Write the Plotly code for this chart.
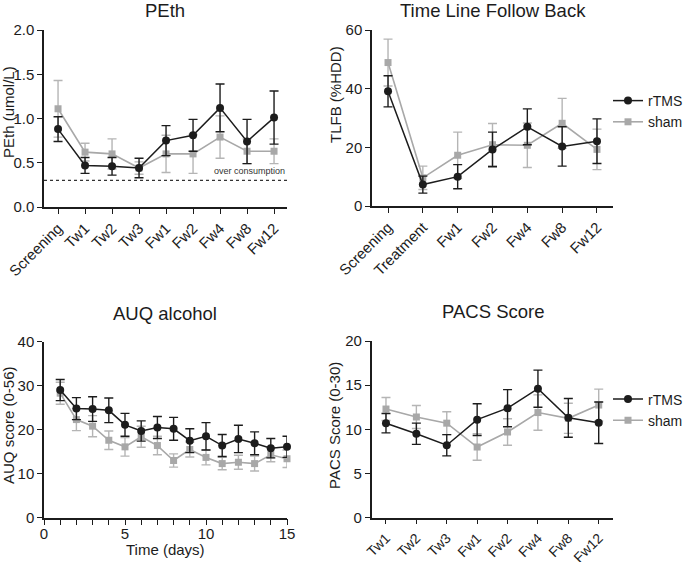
import plotly.graph_objects as go

# ---------------- data ----------------
peth_cats = ["Screening", "Tw1", "Tw2", "Tw3", "Fw1", "Fw2", "Fw4", "Fw8", "Fw12"]
peth_rtms = [0.88, 0.47, 0.46, 0.44, 0.75, 0.81, 1.12, 0.74, 1.01]
peth_rtms_err = [0.14, 0.09, 0.10, 0.11, 0.17, 0.18, 0.27, 0.25, 0.30]
peth_sham = [1.11, 0.62, 0.60, 0.44, 0.60, 0.60, 0.79, 0.63, 0.63]
peth_sham_err = [0.32, 0.10, 0.17, 0.07, 0.21, 0.22, 0.24, 0.14, 0.14]
peth_threshold = 0.3

tlfb_cats = ["Screening", "Treatment", "Fw1", "Fw2", "Fw4", "Fw8", "Fw12"]
tlfb_rtms = [39.1, 7.3, 10.0, 19.3, 27.0, 20.3, 22.1]
tlfb_rtms_err = [5.3, 2.9, 4.1, 5.9, 6.1, 6.7, 7.6]
tlfb_sham = [48.9, 9.6, 17.3, 20.9, 20.7, 28.2, 19.3]
tlfb_sham_err = [8.0, 4.0, 7.9, 7.2, 7.6, 8.5, 6.9]

auq_days = [1, 2, 3, 4, 5, 6, 7, 8, 9, 10, 11, 12, 13, 14, 15]
auq_rtms = [29.0, 24.8, 24.7, 24.4, 21.1, 19.7, 20.5, 20.2, 17.5, 18.5, 16.4, 17.9, 16.9, 15.8, 16.1]
auq_rtms_err = [2.4, 2.5, 2.8, 2.8, 2.6, 2.3, 2.5, 2.6, 2.7, 3.1, 2.5, 3.1, 2.6, 2.2, 2.4]
auq_sham = [28.3, 22.3, 20.8, 17.6, 16.1, 18.4, 16.4, 13.0, 15.5, 13.7, 12.3, 12.6, 12.3, 14.3, 13.4]
auq_sham_err = [2.5, 2.5, 2.4, 2.1, 2.1, 2.4, 2.1, 1.5, 1.7, 1.7, 1.4, 1.6, 1.7, 1.6, 2.0]

pacs_cats = ["Tw1", "Tw2", "Tw3", "Fw1", "Fw2", "Fw4", "Fw8", "Fw12"]
pacs_rtms = [10.7, 9.5, 8.2, 11.1, 12.4, 14.6, 11.3, 10.75]
pacs_rtms_err = [1.1, 1.2, 1.2, 1.8, 2.1, 2.1, 2.2, 2.35]
pacs_sham = [12.3, 11.4, 10.7, 8.0, 9.7, 11.9, 11.25, 12.75]
pacs_sham_err = [1.3, 1.3, 1.3, 1.5, 1.5, 2.0, 1.7, 1.8]

# ---------------- style ----------------
FONT = "Liberation Sans, Arial, Helvetica, sans-serif"
BLACK = "#1c1c1c"
GRAY = "#a8a8a8"
GRAY_ERR = "#b5b5b5"
W, H = 685, 562


def px_x(p):
    return p / W


def px_y(p):
    return 1 - p / H


fig = go.Figure()


def add_pair(x, rt, rt_err, sh, sh_err, xa, ya, legend=None):
    show = legend is not None
    fig.add_trace(go.Scatter(
        x=x, y=sh, name="sham", mode="lines+markers",
        line=dict(color=GRAY, width=1.6),
        marker=dict(symbol="square", size=7, color=GRAY),
        error_y=dict(type="data", array=sh_err, color=GRAY_ERR, thickness=1.4, width=4.5),
        xaxis=xa, yaxis=ya, cliponaxis=False, showlegend=show,
        legend=legend if show else None, legendrank=2,
    ))
    fig.add_trace(go.Scatter(
        x=x, y=rt, name="rTMS", mode="lines+markers",
        line=dict(color=BLACK, width=1.5),
        marker=dict(symbol="circle", size=8, color=BLACK),
        error_y=dict(type="data", array=rt_err, color=BLACK, thickness=1.4, width=4.5),
        xaxis=xa, yaxis=ya, cliponaxis=False, showlegend=show,
        legend=legend if show else None, legendrank=1,
    ))


add_pair(peth_cats, peth_rtms, peth_rtms_err, peth_sham, peth_sham_err, "x", "y")
add_pair(tlfb_cats, tlfb_rtms, tlfb_rtms_err, tlfb_sham, tlfb_sham_err, "x2", "y2", legend="legend")
add_pair(auq_days, auq_rtms, auq_rtms_err, auq_sham, auq_sham_err, "x3", "y3")
add_pair(pacs_cats, pacs_rtms, pacs_rtms_err, pacs_sham, pacs_sham_err, "x4", "y4", legend="legend2")

axis_common = dict(
    showline=True, linecolor=BLACK, linewidth=1.5, mirror=False,
    ticks="outside", ticklen=5, tickwidth=1.4, tickcolor=BLACK,
    showgrid=False, zeroline=False, automargin=False,
    tickfont=dict(family=FONT, size=15, color=BLACK),
)

fig.update_layout(
    width=W, height=H,
    margin=dict(l=0, r=0, t=0, b=0, pad=0, autoexpand=False),
    paper_bgcolor="white", plot_bgcolor="white",
    font=dict(family=FONT, color=BLACK),
    xaxis=dict(axis_common, domain=[px_x(44), px_x(287)], anchor="y",
               type="category", range=[-0.52, 8.48], tickangle=-45),
    yaxis=dict(axis_common, domain=[px_y(207), px_y(30)], anchor="x",
               range=[0, 2.0], tickvals=[0, 0.5, 1.0, 1.5, 2.0], tickformat=".1f"),
    xaxis2=dict(axis_common, domain=[px_x(372), px_x(613)], anchor="y2",
                type="category", range=[-0.46, 6.46], tickangle=-45),
    yaxis2=dict(axis_common, domain=[px_y(206), px_y(30)], anchor="x2",
                range=[0, 60], tickvals=[0, 20, 40, 60]),
    xaxis3=dict(axis_common, domain=[px_x(44), px_x(287)], anchor="y3",
                range=[0, 15], tickvals=[0, 5, 10, 15], ticklen=6,
                ticklabelstandoff=-4,
                minor=dict(dtick=1, tick0=0, ticks="outside", ticklen=6,
                           tickwidth=1.4, tickcolor=BLACK, showgrid=False)),
    yaxis3=dict(axis_common, domain=[px_y(517.7), px_y(341.7)], anchor="x3",
                range=[0, 40], tickvals=[0, 10, 20, 30, 40]),
    xaxis4=dict(axis_common, domain=[px_x(371.7), px_x(613)], anchor="y4",
                type="category", range=[-0.47, 7.47], tickangle=-45,
                tickfont=dict(family=FONT, size=14, color=BLACK)),
    yaxis4=dict(axis_common, domain=[px_y(517.7), px_y(341)], anchor="x4",
                range=[0, 20], tickvals=[0, 5, 10, 15, 20]),
    legend=dict(x=px_x(608), y=px_y(111.5), xanchor="left", yanchor="middle",
                font=dict(family=FONT, size=14, color=BLACK),
                bgcolor="rgba(0,0,0,0)", borderwidth=0, itemwidth=30),
    legend2=dict(x=px_x(608), y=px_y(410), xanchor="left", yanchor="middle",
                 font=dict(family=FONT, size=14, color=BLACK),
                 bgcolor="rgba(0,0,0,0)", borderwidth=0, itemwidth=30),
)

# threshold line for PEth
fig.add_shape(type="line", xref="x domain", yref="y", x0=0, x1=1,
              y0=peth_threshold, y1=peth_threshold,
              line=dict(color="#333333", width=1.2, dash="dot"))
fig.add_annotation(xref="x domain", yref="y", x=1, y=peth_threshold,
                   text="over consumption", showarrow=False,
                   xanchor="right", yanchor="bottom", yshift=2,
                   font=dict(family=FONT, size=9, color="#333333"))

# titles
titles = [("PEth", 165, 10), ("Time Line Follow Back", 493, 10),
          ("AUQ alcohol", 165, 313), ("PACS Score", 493, 311)]
for t, cx, cy in titles:
    fig.add_annotation(xref="paper", yref="paper", x=px_x(cx), y=px_y(cy),
                       text=t, showarrow=False, xanchor="center", yanchor="middle",
                       font=dict(family=FONT, size=18.5, color=BLACK))

# axis titles
ytitles = [("PEth (umol/L)", 8, 112), ("TLFB (%HDD)", 335, 95),
           ("AUQ score (0-56)", 8, 425), ("PACS Score (0-30)", 334, 426)]
for t, cx, cy in ytitles:
    fig.add_annotation(xref="paper", yref="paper", x=px_x(cx), y=px_y(cy),
                       text=t, showarrow=False, textangle=-90,
                       xanchor="center", yanchor="middle",
                       font=dict(family=FONT, size=15, color=BLACK))

fig.add_annotation(xref="paper", yref="paper", x=px_x(165), y=px_y(549),
                   text="Time (days)", showarrow=False,
                   xanchor="center", yanchor="middle",
                   font=dict(family=FONT, size=15, color=BLACK))

fig.write_html(
    "out.html",
    config={"displayModeBar": False},
    post_script="document.body.style.margin='0';document.body.style.overflow='hidden';",
)
